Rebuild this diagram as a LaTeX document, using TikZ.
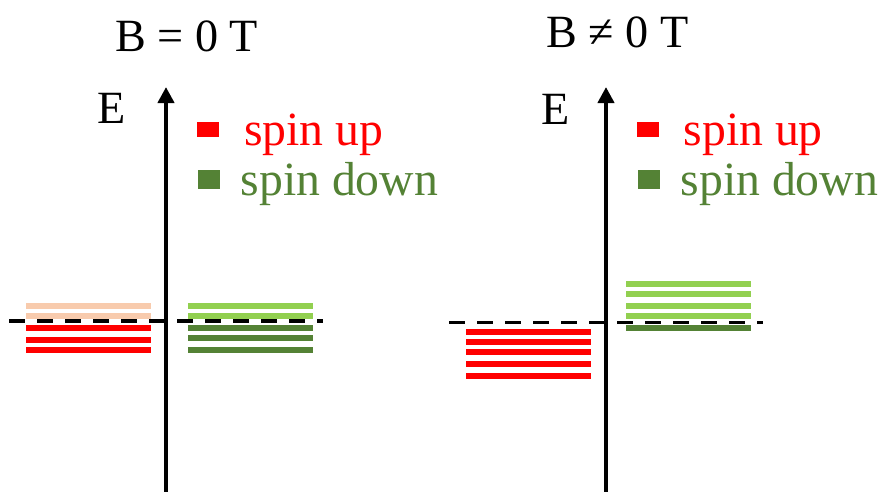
\documentclass[tikz,border=0pt]{standalone}
\usepackage{fontspec}
\setmainfont{Liberation Serif}
\usetikzlibrary{arrows.meta}
\definecolor{upred}{HTML}{FF0000}
\definecolor{uppeach}{HTML}{F8CBAD}
\definecolor{dnlight}{HTML}{92D050}
\definecolor{dndark}{HTML}{548235}
\tikzset{
  axis/.style={line width=4pt,-{Triangle[length=16pt,width=16pt]}},
  fermi/.style={line width=3.6pt,dash pattern=on 16pt off 12pt},
  lbl/.style={anchor=base west,inner sep=0pt,font=\fontsize{46.2}{51}\selectfont},
  leg/.style={anchor=base west,inner sep=0pt,font=\fontsize{47.7}{53}\selectfont},
}
% one energy level: colour, x from, x to, y centre
\newcommand{\lvl}[4]{\fill[#1] (#2,#4-2.85) rectangle (#3,#4+2.85);}
\begin{document}
\begin{tikzpicture}[x=1pt,y=-1pt]
\useasboundingbox (0,0) rectangle (884,491);

% ---------- B = 0 T ----------
\node[lbl] (titleA) at (115,51) {B = 0 T};
\node[lbl] (eA) at (97.5,123) {E};
\fill[upred] (197,122) rectangle (219,137);
\node[leg,text=upred] (upA) at (243.8,145) {spin up};
\fill[dndark] (198,170) rectangle (220,189);
\node[leg,text=dndark] (dnA) at (240.5,195) {spin down};

\foreach \y in {306,316} {\lvl{uppeach}{26}{151}{\y}}
\foreach \y in {328,340,350} {\lvl{upred}{26}{151}{\y}}
\foreach \y in {306,316} {\lvl{dnlight}{188}{312.5}{\y}}
\foreach \y in {328,338,350} {\lvl{dndark}{188}{312.5}{\y}}

\coordinate (fAl) at (9,321);
\coordinate (fAr) at (323,321);
\draw[fermi] (fAl) -- (fAr);
\coordinate (axA0) at (166,495);
\coordinate (axA1) at (166,87);
\draw[axis] (axA0) -- (axA1);

% ---------- B ≠ 0 T ----------
\node[lbl] (titleB) at (546.3,47) {B ≠ 0 T};
\node[lbl] (eB) at (541.5,124) {E};
\fill[upred] (637,122) rectangle (659,137);
\node[leg,text=upred] (upB) at (683.5,145) {spin up};
\fill[dndark] (638,170) rectangle (660,189);
\node[leg,text=dndark] (dnB) at (680.5,195) {spin down};

\foreach \y in {332,342,352,364,376} {\lvl{upred}{466}{591}{\y}}
\foreach \y in {284,294,306,316} {\lvl{dnlight}{626}{751}{\y}}
\lvl{dndark}{626}{751}{328}

\coordinate (fBl) at (449,322.5);
\coordinate (fBr) at (763,322.5);
\draw[fermi] (fBl) -- (fBr);
\coordinate (axB0) at (606,495);
\coordinate (axB1) at (606,87);
\draw[axis] (axB0) -- (axB1);
\end{tikzpicture}
\end{document}
